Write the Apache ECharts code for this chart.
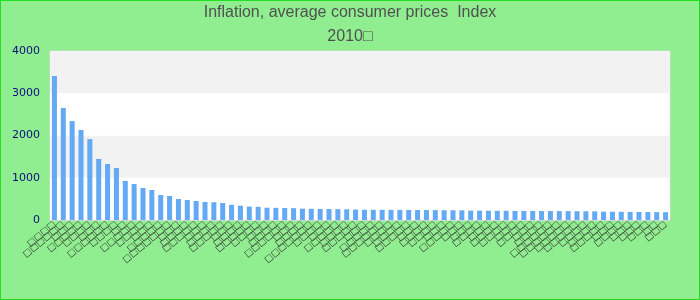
<!DOCTYPE html>
<html>
<head>
<meta charset="utf-8">
<script src="https://cdn.jsdelivr.net/npm/echarts@6/dist/echarts.min.js"></script>
<style>
  html, body { margin: 0; padding: 0; }
  #c { width: 700px; height: 300px; background: #90ee90; box-shadow: inset 0 0 0 1px #1ee01e; }
</style>
</head>
<body>
<div id="c"></div>
<script>
const titleLine1 = "Inflation, average consumer prices  Index";
const titleLine2 = "2010\u25A1";

const categories = [
  "□□□□", "□□□□□□", "□□□", "□□□□□", "□□□□", "□□□", "□□□□□□", "□□□□",
  "□□", "□□□□□", "□□□□", "□□□", "□□□□□", "□□□□□□□", "□□□", "□□□□",
  "□□□□□", "□□□", "□□□□", "□□□□□", "□□□", "□□□□", "□□□□□", "□□□□",
  "□□□", "□□□□", "□□□□□□", "□□□", "□□□□", "□□□□□□□", "□□□□", "□□□",
  "□□□□□", "□□□□", "□□□□□", "□□□", "□□□□□", "□□□□□□", "□□□□", "□□□□",
  "□□□□□", "□□□", "□□□□", "□□□□", "□□□", "□□□□□", "□□□", "□□□",
  "□□□□", "□□□", "□□□□", "□□□□", "□□□", "□□□□", "□□□", "□□□□",
  "□□□□□□", "□□□□□□", "□□□□□", "□□□□□", "□□□□", "□□□□", "□□□□□", "□□□",
  "□□□□", "□□□", "□□□", "□□□", "□□", "□□□"
];

const values = [
  3410, 2650, 2340, 2130, 1915, 1445, 1325, 1230, 925, 850,
  757, 710, 592, 568, 497, 473, 450, 428, 420, 402,
  360, 338, 318, 312, 290, 287, 284, 280, 268, 265,
  262, 260, 257, 254, 246, 244, 242, 241, 240, 239,
  237, 236, 235, 234, 232, 231, 229, 222, 221, 219,
  218, 217, 216, 215, 214, 213, 212, 211, 210, 208,
  206, 204, 198, 196, 194, 192, 190, 188, 186, 184
];

const yMin = 0, yMax = 4000, yInterval = 1000;

const chart = echarts.init(document.getElementById('c'), null, { renderer: 'canvas' });
chart.setOption({
  backgroundColor: 'transparent',
  animation: false,
  title: {
    text: titleLine1 + "\n" + titleLine2,
    left: 'center',
    top: 1,
    padding: 0,
    textStyle: {
      fontFamily: 'Liberation Sans, Arial, sans-serif',
      fontSize: 16,
      fontWeight: 'normal',
      color: '#505050',
      lineHeight: 24
    }
  },
  grid: {
    left: 50, right: 30, top: 51, bottom: 80,
    show: true,
    borderColor: '#d6d6d6',
    borderWidth: 1,
    backgroundColor: '#ffffff'
  },
  xAxis: {
    type: 'category',
    data: categories,
    axisLine: { show: true, lineStyle: { color: '#d6d6d6', width: 1 } },
    axisTick: { show: false },
    axisLabel: {
      interval: 0,
      rotate: 40,
      margin: 3,
      fontSize: 9,
      fontFamily: 'DejaVu Sans, sans-serif',
      color: '#333333'
    },
    splitLine: { show: false }
  },
  yAxis: {
    type: 'value',
    min: yMin, max: yMax, interval: yInterval,
    axisLine: { show: false },
    axisTick: { show: false },
    axisLabel: {
      margin: 10,
      fontSize: 11,
      fontFamily: 'DejaVu Sans, sans-serif',
      color: '#0d0d80',
      formatter: function (v) { return String(v); }
    },
    splitLine: { show: false },
    splitArea: { show: true, areaStyle: { color: ['#ffffff', '#f2f2f2'] } }
  },
  series: [{
    type: 'bar',
    data: values,
    barWidth: 5,
    itemStyle: { color: '#63a9f4' }
  }]
});
</script>
</body>
</html>
